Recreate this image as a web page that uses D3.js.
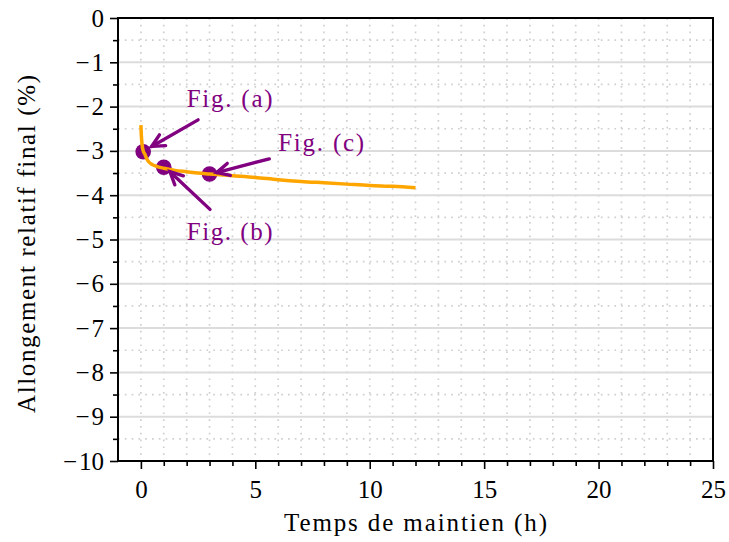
<!DOCTYPE html>
<html>
<head>
<meta charset="utf-8">
<script src="https://cdn.jsdelivr.net/npm/d3@7"></script>
<style>
  body { margin: 0; background: #fff; }
  svg { display: block; }
  text { font-family: "Liberation Serif", "Times New Roman", serif; fill: #000; }
</style>
</head>
<body>
<svg id="chart" width="729" height="542"></svg>
<script>
// ---- data ----
const curveX = [0, 0.02, 0.05, 0.1, 0.17, 0.25, 0.35, 0.5, 0.75, 1, 1.5, 2, 2.5, 3, 4, 5, 6, 7, 8, 9, 10, 11, 12];
const curveY = [-2.42, -2.65, -2.85, -3.0, -3.07, -3.17, -3.25, -3.31, -3.36, -3.39, -3.44, -3.47, -3.50, -3.52, -3.56, -3.60, -3.65, -3.69, -3.72, -3.75, -3.78, -3.80, -3.83];
const pointX = [0.1, 1, 3];
const pointY = [-3.02, -3.37, -3.52];
const annLabels = ["Fig. (a)", "Fig. (b)", "Fig. (c)"];
const annTextX = [2, 2, 6];
const annTextY = [-2, -5, -3];
const arrowTailX = [2.5, 3.02, 5.61];
const arrowTailY = [-2.3, -4.32, -3.18];
const arrowHeadX = [0.47, 1.27, 3.31];
const arrowHeadY = [-2.9, -3.47, -3.49];
const xTickValues = [0, 5, 10, 15, 20, 25];
const xTickLabels = ["0", "5", "10", "15", "20", "25"];
const yTickValues = [0, -1, -2, -3, -4, -5, -6, -7, -8, -9, -10];
const yTickLabels = ["0", "\u22121", "\u22122", "\u22123", "\u22124", "\u22125", "\u22126", "\u22127", "\u22128", "\u22129", "\u221210"];
const xLabel = "Temps de maintien (h)";
const yLabel = "Allongement relatif final (%)";

// ---- layout ----
const mLeft = 118, mRight = 713, mTop = 18, mBottom = 461;
const svg = d3.select("#chart");
const x = d3.scaleLinear().domain([-1, 25]).range([mLeft, mRight]);
const y = d3.scaleLinear().domain([-10, 0]).range([mBottom, mTop]);

const purple = "#800080", orange = "#FFA500";
const FONT = "Liberation Serif";

// grid
const grid = svg.append("g");
const xMinor = d3.range(0, 25, 1);
grid.selectAll(".vminor").data(xMinor).join("line")
  .attr("x1", d => x(d)).attr("x2", d => x(d))
  .attr("y1", mTop).attr("y2", mBottom)
  .attr("stroke", "#d0d0d0").attr("stroke-width", 1.7)
  .attr("stroke-dasharray", "1.7,5.1");
const yMinor = d3.range(-9.5, 0, 1);
grid.selectAll(".hminor").data(yMinor).join("line")
  .attr("x1", mLeft).attr("x2", mRight)
  .attr("y1", d => y(d)).attr("y2", d => y(d))
  .attr("stroke", "#d0d0d0").attr("stroke-width", 1.7)
  .attr("stroke-dasharray", "1.7,5.1");
grid.selectAll(".hmajor").data(yTickValues.filter(v => v > -10 && v < 0)).join("line")
  .attr("x1", mLeft).attr("x2", mRight)
  .attr("y1", d => y(d)).attr("y2", d => y(d))
  .attr("stroke", "#dcdcdc").attr("stroke-width", 2);

// axes
const fs = 25;
const xAxis = d3.axisBottom(x).tickValues(xTickValues).tickSize(8).tickPadding(8)
  .tickFormat((d, i) => xTickLabels[i]);
const gx = svg.append("g").attr("transform", `translate(0,${mBottom})`).call(xAxis);
const xAxisMinor = d3.axisBottom(x).tickValues(d3.range(0, 26, 1).filter(v => v % 5 !== 0)).tickSize(5).tickFormat("");
const gxm = svg.append("g").attr("transform", `translate(0,${mBottom})`).call(xAxisMinor);
const yAxis = d3.axisLeft(y).tickValues(yTickValues).tickSize(8).tickPadding(6)
  .tickFormat((d, i) => yTickLabels[i]);
const gy = svg.append("g").attr("transform", `translate(${mLeft},0)`).call(yAxis);
const yAxisMinor = d3.axisLeft(y).tickValues(d3.range(-9.5, 0, 1)).tickSize(5).tickFormat("");
const gym = svg.append("g").attr("transform", `translate(${mLeft},0)`).call(yAxisMinor);
[gx, gxm, gy, gym].forEach(g => {
  g.select(".domain").remove();
  g.selectAll(".tick line").attr("stroke", "#000").attr("stroke-width", 1.6);
  g.selectAll(".tick text").style("font-family", FONT).attr("font-size", fs).attr("fill", "#000");
});
gx.selectAll(".tick text").attr("dy", "0.85em");
// slightly wider math minus as in the reference
gy.selectAll(".tick text").each(function() {
  const t = d3.select(this);
  const s = t.text();
  if (s.startsWith("\u2212")) {
    t.text("");
    t.append("tspan").text("\u2212");
    t.append("tspan").attr("dx", 2).text(s.slice(1));
  }
});

// data: dots, curve, arrows
svg.append("g").selectAll("circle").data(pointX).join("circle")
  .attr("cx", (d, i) => x(d)).attr("cy", (d, i) => y(pointY[i]))
  .attr("r", 7.8).attr("fill", purple);

const line = d3.line().x(d => x(d[0])).y(d => y(d[1])).curve(d3.curveMonotoneX);
svg.append("path").datum(curveX.map((v, i) => [v, curveY[i]]))
  .attr("d", line).attr("fill", "none").attr("stroke", orange)
  .attr("stroke-width", 3.5).attr("stroke-linejoin", "round");

const arrows = svg.append("g").attr("stroke", purple).attr("stroke-width", 3.4)
  .attr("stroke-linecap", "round").attr("fill", "none");
annLabels.forEach((lab, i) => {
  const x1 = x(arrowTailX[i]), y1 = y(arrowTailY[i]);
  const x2 = x(arrowHeadX[i]), y2 = y(arrowHeadY[i]);
  arrows.append("line").attr("x1", x1).attr("y1", y1).attr("x2", x2).attr("y2", y2);
  const ang = Math.atan2(y2 - y1, x2 - x1);
  const L = 14, a = 0.46;
  const p = [ang + Math.PI - a, ang + Math.PI + a].map(t => [x2 + L * Math.cos(t), y2 + L * Math.sin(t)]);
  arrows.append("path").attr("d", `M${p[0][0]},${p[0][1]}L${x2},${y2}L${p[1][0]},${p[1][1]}`)
    .attr("stroke-linejoin", "miter");
  svg.append("text").attr("x", x(annTextX[i])).attr("y", y(annTextY[i]))
    .style("font-family", FONT).attr("font-size", fs).style("fill", purple)
    .attr("textLength", 86).attr("lengthAdjust", "spacing")
    .text(lab);
});

// spines
svg.append("rect").attr("x", mLeft).attr("y", mTop).attr("width", mRight - mLeft).attr("height", mBottom - mTop)
  .attr("fill", "none").attr("stroke", "#000").attr("stroke-width", 2);

// axis labels
svg.append("text").attr("x", (mLeft + mRight) / 2).attr("y", 531)
  .attr("text-anchor", "middle").attr("font-size", fs).style("font-family", FONT)
  .attr("textLength", 263).attr("lengthAdjust", "spacing").text(xLabel);
svg.append("text").attr("transform", `translate(35,244) rotate(-90)`)
  .attr("text-anchor", "middle").attr("font-size", fs).style("font-family", FONT)
  .attr("textLength", 338).attr("lengthAdjust", "spacing").text(yLabel);
</script>
</body>
</html>
